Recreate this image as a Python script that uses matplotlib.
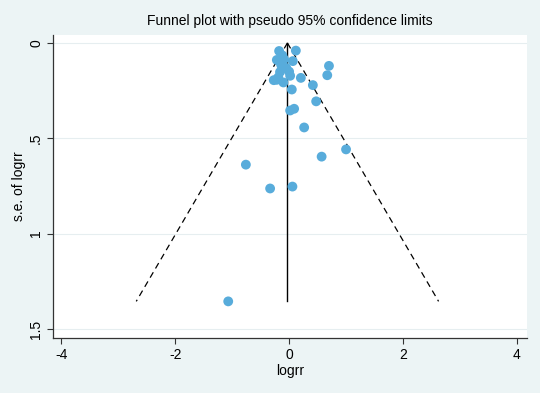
import numpy as np
import matplotlib
matplotlib.use("Agg")
import matplotlib.pyplot as plt

plt.rcParams['font.family'] = ['Liberation Sans', 'DejaVu Sans']

# study estimates
logrr = [-1.07, -0.76, -0.334, 0.058, 0.571, 1.0, 0.264, 0.018, 0.088, 0.475,
         0.047, 0.417, 0.70, 0.67, 0.206, 0.018, -0.176, 0.118, 0.065, -0.216,
         -0.216, -0.10, -0.12, -0.14, -0.16, -0.05, -0.27, -0.09, 0.0, -0.19]
se_logrr = [1.355, 0.638, 0.763, 0.753, 0.596, 0.558, 0.443, 0.354, 0.345, 0.306,
            0.244, 0.221, 0.12, 0.169, 0.183, 0.172, 0.042, 0.040, 0.095, 0.089,
            0.193, 0.207, 0.065, 0.115, 0.152, 0.131, 0.195, 0.085, 0.15, 0.18]
pooled = -0.03
se_max = 1.355

xticks = [-4, -2, 0, 2, 4]
yticks = [0, 0.5, 1, 1.5]
ytick_labels = ["0", ".5", "1", "1.5"]

bg = "#ecf4f5"
fig = plt.figure(figsize=(5.4, 3.93), dpi=100, facecolor=bg)
ax = fig.add_axes([0.098, 0.140, 0.878, 0.771])
ax.set_facecolor("white")

for yv in yticks:
    ax.axhline(yv, color="#e6eef0", lw=0.8, zorder=0)

# pseudo 95% limits
se_line = np.array([0, se_max])
ax.plot(pooled - 1.96 * se_line, se_line, color="black", lw=0.9, ls=(0, (5, 3.5)))
ax.plot(pooled + 1.96 * se_line, se_line, color="black", lw=0.9, ls=(0, (5, 3.5)))
ax.plot([pooled, pooled], [0, se_max], color="black", lw=1.0)

ax.scatter(logrr, se_logrr, s=50, color="#58acdb", edgecolors="none", zorder=3)

ax.set_xlim(-4.15, 4.18)
ax.set_ylim(1.547, -0.042)
ax.set_xticks(xticks)
ax.set_xticklabels([str(v) for v in xticks])
ax.set_yticks(yticks)
ax.set_yticklabels(ytick_labels, rotation=90, va="center")

for s in ["top", "right"]:
    ax.spines[s].set_visible(False)
for s in ["left", "bottom"]:
    ax.spines[s].set_color("#333333")
    ax.spines[s].set_linewidth(0.9)
ax.tick_params(direction="out", length=4, width=0.8, color="#333333",
               labelsize=10, pad=3)

ax.set_xlabel("logrr", fontsize=10, labelpad=2)
ax.set_ylabel("s.e. of logrr", fontsize=10)
ax.yaxis.set_label_coords(-0.057, 0.5)
ax.set_title("Funnel plot with pseudo 95% confidence limits", fontsize=10, pad=7)

fig.savefig("out.png", dpi=100, facecolor=bg)
